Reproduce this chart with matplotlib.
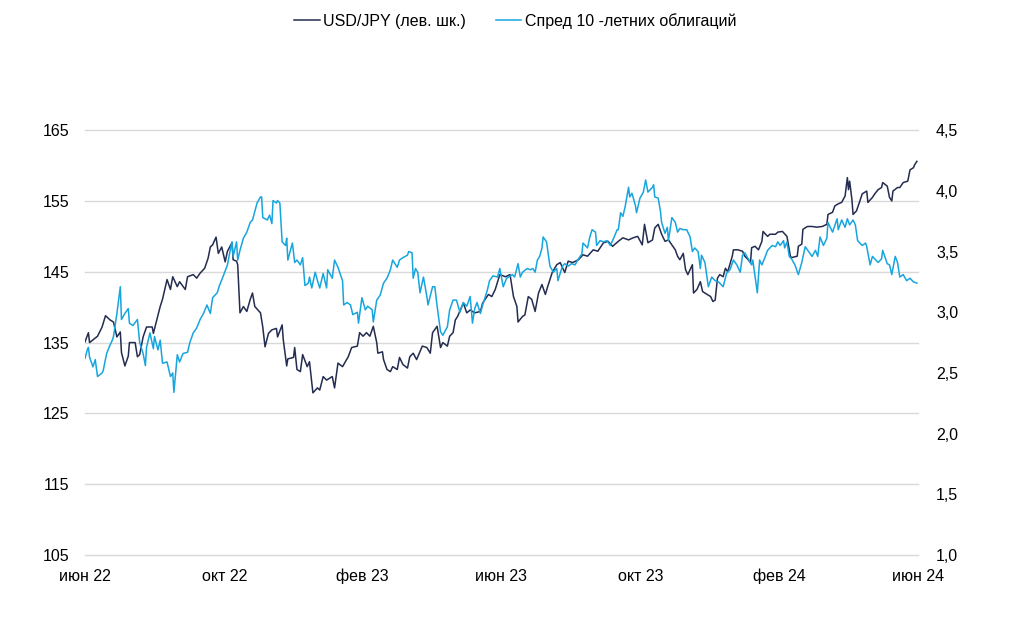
import matplotlib.pyplot as plt
from matplotlib.ticker import FuncFormatter
import pandas as pd

# --- Data ---
start_date = "2022-06-30"

# USD/JPY, days since start_date
usd_days = [0, 3, 4, 11, 15, 18, 22, 25, 28, 31, 32, 35, 38, 39, 44, 46, 48, 51, 54, 59,
            60, 63, 66, 68, 72, 75, 77, 81, 83, 88, 90, 95, 98, 101, 105, 108, 110, 112, 115, 117,
            120, 123, 125, 129, 130, 133, 134, 136, 139, 142, 145, 147, 149, 154, 156, 158, 161, 164, 168, 169,
            173, 174, 177, 178, 183, 184, 186, 189, 191, 195, 197, 200, 204, 206, 209, 212, 217, 219, 222, 226,
            231, 234, 239, 241, 244, 247, 250, 253, 256, 257, 261, 262, 265, 268, 270, 274, 276, 279, 283, 285,
            288, 291, 296, 300, 303, 305, 309, 312, 314, 318, 320, 323, 325, 327, 332, 335, 338, 342, 347, 349,
            354, 357, 360, 364, 369, 373, 376, 379, 380, 384, 386, 389, 392, 395, 398, 401, 404, 406, 410, 414,
            417, 421, 424, 428, 433, 437, 441, 446, 450, 455, 459, 463, 468, 472, 477, 481, 485, 489, 491, 494,
            498, 500, 503, 506, 509, 512, 515, 518, 520, 522, 525, 527, 529, 533, 534, 537, 540, 542, 546, 549,
            551, 553, 555, 557, 560, 562, 564, 568, 569, 573, 577, 579, 582, 584, 585, 588, 591, 594, 595, 599,
            601, 606, 608, 612, 616, 619, 620, 625, 626, 629, 630, 634, 638, 642, 647, 651, 652, 656, 658, 661,
            664, 667, 669, 670, 671, 673, 674, 677, 680, 682, 685, 686, 687, 691, 693, 696, 699, 700, 704, 706,
            708, 709, 713, 715, 718, 722, 724, 727, 728, 730]
usd_jpy = [135.1, 136.4, 135.0, 135.9, 137.2, 138.8, 138.2, 137.9, 135.8, 136.5, 133.6, 131.7, 133.1, 135.0, 135.0, 133.0, 133.3, 135.8, 137.2, 137.2,
           136.3, 138.2, 140.1, 141.1, 143.9, 142.5, 144.3, 142.9, 143.6, 142.5, 144.3, 144.6, 144.1, 144.8, 145.5, 146.9, 148.5, 148.8, 149.9, 147.6,
           148.5, 146.4, 147.9, 149.1, 146.7, 146.5, 146.0, 139.2, 140.1, 139.4, 141.1, 142.0, 140.1, 139.2, 137.2, 134.4, 136.3, 136.8, 137.0, 135.8,
           137.5, 135.4, 131.7, 132.7, 132.9, 134.3, 131.2, 130.9, 133.3, 131.6, 132.3, 127.9, 128.6, 128.3, 130.2, 129.7, 130.2, 128.6, 132.1, 131.6,
           133.0, 134.3, 134.5, 136.4, 135.9, 136.4, 135.9, 137.3, 135.0, 133.5, 133.7, 132.6, 131.2, 130.9, 131.6, 131.2, 132.9, 131.9, 131.4, 133.0,
           133.5, 132.6, 134.5, 134.3, 133.5, 136.4, 137.3, 134.3, 135.0, 134.5, 135.9, 136.4, 138.2, 138.7, 140.6, 139.2, 139.6, 139.2, 139.4, 140.6,
           141.8, 141.5, 142.5, 144.6, 144.3, 144.6, 141.5, 140.1, 137.9, 138.7, 138.9, 141.5, 141.1, 139.4, 142.0, 143.2, 141.8, 142.9, 144.9, 146.0,
           146.3, 144.9, 146.5, 146.3, 146.7, 147.4, 147.2, 148.1, 147.9, 149.1, 149.3, 148.6, 149.3, 149.8, 149.5, 149.8, 150.0, 148.8, 151.7, 149.1,
           149.5, 151.2, 151.7, 150.3, 149.3, 149.5, 148.8, 148.1, 147.2, 146.7, 147.6, 145.3, 144.6, 146.0, 142.0, 142.5, 143.6, 142.2, 141.8, 141.5,
           140.8, 141.0, 144.1, 144.6, 144.3, 145.5, 145.0, 147.2, 148.1, 148.1, 147.9, 147.2, 146.7, 146.3, 148.4, 148.6, 148.1, 149.3, 150.7, 150.0,
           150.3, 150.3, 150.6, 150.7, 150.0, 147.2, 147.0, 147.2, 148.6, 148.9, 151.0, 151.4, 151.4, 151.3, 151.4, 151.7, 153.1, 153.4, 154.3, 154.6,
           154.8, 155.7, 158.3, 156.6, 157.8, 155.2, 153.1, 153.6, 155.0, 156.0, 156.3, 156.4, 154.8, 155.5, 156.0, 156.6, 156.9, 157.6, 157.1, 155.5,
           155.0, 156.4, 156.9, 156.9, 157.6, 157.8, 159.4, 159.7, 160.1, 160.6]

# 10-year bond spread, days since start_date
spread_days = [0, 2, 3, 4, 7, 9, 11, 15, 16, 19, 22, 24, 25, 28, 31, 32, 35, 38, 39, 42,
               46, 48, 51, 53, 54, 57, 60, 61, 64, 66, 68, 72, 75, 77, 78, 81, 83, 86, 90, 92,
               95, 98, 101, 104, 107, 110, 112, 116, 118, 121, 125, 127, 129, 130, 133, 134, 136, 139, 142, 145,
               147, 151, 154, 155, 156, 160, 162, 164, 165, 168, 169, 171, 173, 176, 177, 178, 182, 184, 186, 189,
               191, 193, 196, 197, 199, 202, 204, 206, 209, 212, 213, 217, 219, 222, 226, 227, 230, 233, 235, 239,
               240, 243, 246, 248, 252, 253, 256, 259, 262, 265, 268, 270, 274, 276, 279, 283, 284, 287, 288, 290,
               292, 294, 297, 300, 301, 305, 307, 309, 312, 314, 318, 320, 323, 326, 329, 332, 335, 338, 340, 342,
               344, 347, 349, 353, 355, 358, 362, 364, 367, 370, 375, 377, 380, 382, 384, 388, 391, 393, 395, 397,
               399, 401, 402, 405, 408, 411, 414, 415, 419, 421, 424, 427, 430, 433, 436, 437, 441, 443, 445, 448,
               449, 452, 455, 458, 461, 463, 467, 468, 470, 472, 474, 477, 478, 480, 483, 484, 487, 490, 492, 494,
               498, 499, 500, 503, 505, 506, 509, 511, 512, 515, 518, 520, 522, 525, 528, 531, 533, 535, 538, 540,
               541, 544, 547, 550, 553, 556, 557, 560, 563, 566, 569, 572, 575, 577, 579, 582, 585, 586, 590, 592,
               594, 597, 599, 603, 606, 608, 610, 613, 614, 616, 618, 620, 623, 626, 629, 632, 635, 638, 641, 643,
               645, 648, 651, 652, 654, 656, 660, 661, 664, 667, 669, 671, 674, 676, 678, 682, 685, 686, 689, 691,
               693, 696, 699, 700, 704, 706, 708, 711, 713, 715, 718, 721, 724, 727, 730]
spread_10y = [2.62, 2.69, 2.71, 2.63, 2.55, 2.61, 2.47, 2.50, 2.52, 2.66, 2.73, 2.77, 2.80, 2.99, 3.21, 2.94, 2.99, 3.03, 2.91, 2.89,
              2.94, 2.75, 2.66, 2.56, 2.71, 2.83, 2.70, 2.80, 2.69, 2.77, 2.58, 2.59, 2.47, 2.50, 2.34, 2.65, 2.59, 2.66, 2.67, 2.75,
              2.83, 2.87, 2.94, 2.99, 3.06, 2.99, 3.12, 3.16, 3.22, 3.29, 3.39, 3.49, 3.58, 3.46, 3.58, 3.43, 3.51, 3.61, 3.66, 3.74,
              3.76, 3.90, 3.95, 3.95, 3.78, 3.76, 3.80, 3.73, 3.92, 3.90, 3.92, 3.90, 3.58, 3.55, 3.61, 3.43, 3.57, 3.41, 3.43, 3.39,
              3.45, 3.22, 3.24, 3.29, 3.20, 3.33, 3.26, 3.20, 3.32, 3.20, 3.35, 3.28, 3.43, 3.37, 3.26, 3.06, 3.08, 3.06, 2.98, 3.00,
              2.91, 3.12, 3.02, 3.05, 3.02, 2.92, 3.10, 3.14, 3.24, 3.28, 3.35, 3.43, 3.37, 3.43, 3.45, 3.47, 3.50, 3.49, 3.28, 3.36,
              3.33, 3.16, 3.29, 3.13, 3.06, 3.21, 3.21, 3.05, 2.84, 2.81, 2.88, 3.02, 3.10, 3.10, 3.00, 3.08, 3.05, 3.13, 2.91, 3.03,
              3.08, 2.99, 3.06, 3.18, 3.26, 3.30, 3.29, 3.36, 3.21, 3.28, 3.31, 3.29, 3.40, 3.29, 3.33, 3.36, 3.35, 3.36, 3.33, 3.43,
              3.46, 3.53, 3.62, 3.58, 3.38, 3.33, 3.36, 3.26, 3.38, 3.40, 3.38, 3.40, 3.39, 3.44, 3.48, 3.57, 3.53, 3.62, 3.68, 3.66,
              3.55, 3.59, 3.58, 3.59, 3.55, 3.59, 3.68, 3.68, 3.82, 3.79, 3.87, 4.03, 3.95, 3.98, 3.88, 3.82, 3.94, 3.99, 4.09, 3.99,
              4.03, 4.05, 3.95, 3.94, 3.83, 3.74, 3.65, 3.70, 3.59, 3.78, 3.74, 3.66, 3.69, 3.68, 3.68, 3.62, 3.50, 3.53, 3.50, 3.36,
              3.47, 3.41, 3.21, 3.29, 3.26, 3.25, 3.24, 3.21, 3.32, 3.35, 3.43, 3.39, 3.33, 3.47, 3.49, 3.44, 3.39, 3.43, 3.16, 3.43,
              3.39, 3.46, 3.51, 3.55, 3.54, 3.58, 3.55, 3.59, 3.53, 3.58, 3.46, 3.44, 3.39, 3.31, 3.41, 3.54, 3.50, 3.46, 3.51, 3.46,
              3.62, 3.55, 3.61, 3.74, 3.70, 3.66, 3.77, 3.68, 3.76, 3.70, 3.77, 3.72, 3.76, 3.72, 3.59, 3.55, 3.57, 3.54, 3.39, 3.46,
              3.44, 3.41, 3.44, 3.51, 3.40, 3.39, 3.31, 3.46, 3.41, 3.29, 3.31, 3.26, 3.28, 3.25, 3.24]

tick_dates = ["2022-06-30", "2022-10-31", "2023-02-28", "2023-06-30", "2023-10-31", "2024-02-29", "2024-06-30"]
tick_labels = ["июн 22", "окт 22", "фев 23", "июн 23", "окт 23", "фев 24", "июн 24"]

usd_x = pd.to_datetime(start_date) + pd.to_timedelta(usd_days, unit="D")
spread_x = pd.to_datetime(start_date) + pd.to_timedelta(spread_days, unit="D")

# --- Plot ---
plt.rcParams["font.family"] = ["Liberation Sans", "DejaVu Sans"]
plt.rcParams["font.size"] = 11.5

navy = "#242c4f"
sky = "#17a5de"

fig = plt.figure(figsize=(10.24, 6.35), dpi=100)
ax = fig.add_axes([0.083, 0.126, 0.8135, 0.669])
ax2 = ax.twinx()

ax.plot(usd_x, usd_jpy, color=navy, lw=1.1, label="USD/JPY (лев. шк.)")
ax2.plot(spread_x, spread_10y, color=sky, lw=1.1, label="Спред 10 -летних облигаций")

ax.set_xlim(pd.Timestamp("2022-06-30"), pd.Timestamp("2024-06-30"))
ax.set_ylim(105, 165)
ax.set_yticks(range(105, 166, 10))
ax2.set_ylim(1.0, 4.5)
ax2.set_yticks([1.0, 1.5, 2.0, 2.5, 3.0, 3.5, 4.0, 4.5])
ax2.yaxis.set_major_formatter(FuncFormatter(lambda v, _: f"{v:.1f}".replace(".", ",")))

ax.set_xticks(pd.to_datetime(tick_dates))
ax.set_xticklabels(tick_labels)

ax.grid(axis="y", color="#d9d9d9", lw=1.0)
for gl in ax.get_ygridlines():
    gl.set_clip_on(False)
ax.set_axisbelow(True)
for a in (ax, ax2):
    for s in a.spines.values():
        s.set_visible(False)
    a.tick_params(length=0)
ax.tick_params(axis="y", pad=11)
ax2.tick_params(axis="y", pad=13)
ax.tick_params(axis="x", pad=10)

h1, l1 = ax.get_legend_handles_labels()
h2, l2 = ax2.get_legend_handles_labels()
fig.legend(h1 + h2, l1 + l2, loc="upper center", bbox_to_anchor=(0.503, 1.002), ncol=2,
           frameon=False, handlelength=1.6, handletextpad=0.2, columnspacing=1.9)

fig.savefig("out.png", dpi=100)
